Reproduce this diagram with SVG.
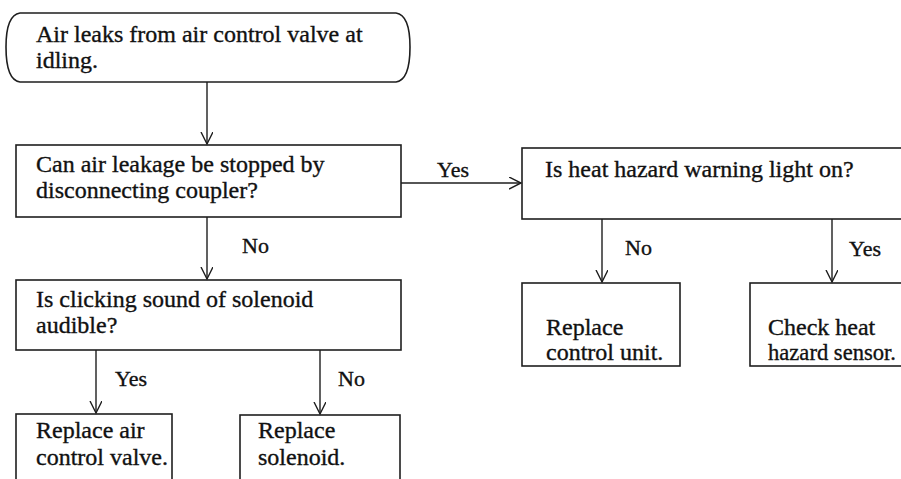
<svg xmlns="http://www.w3.org/2000/svg" width="901" height="479" viewBox="0 0 901 479">
<style>
.box{fill:none;stroke:#1e1e1e;stroke-width:1.6}
.ln{fill:none;stroke:#1e1e1e;stroke-width:1.4}
text{font-family:"Liberation Serif","Times New Roman",serif;font-size:24px;fill:#111;stroke:#111;stroke-width:0.35}
.lb{font-size:22px}
</style>
<defs>
<marker id="ah" markerWidth="14" markerHeight="14" refX="12" refY="6" orient="auto" markerUnits="userSpaceOnUse">
<path d="M0,0 L12,6 L0,12" fill="none" stroke="#1e1e1e" stroke-width="1.4"/>
</marker>
</defs>
<rect width="901" height="479" fill="#fff"/>
<g id="connectors">
<line class="ln" x1="207" y1="82" x2="207" y2="144" marker-end="url(#ah)"/>
<line class="ln" x1="401" y1="183" x2="521" y2="183" marker-end="url(#ah)"/>
<line class="ln" x1="207" y1="217" x2="207" y2="279" marker-end="url(#ah)"/>
<line class="ln" x1="96" y1="350" x2="96" y2="413" marker-end="url(#ah)"/>
<line class="ln" x1="320" y1="350" x2="320" y2="414" marker-end="url(#ah)"/>
<line class="ln" x1="602" y1="219" x2="602" y2="282" marker-end="url(#ah)"/>
<line class="ln" x1="832" y1="219" x2="832" y2="282" marker-end="url(#ah)"/>
<text class="lb" x="437" y="177">Yes</text>
<text class="lb" x="242" y="253">No</text>
<text class="lb" x="115" y="386">Yes</text>
<text class="lb" x="338" y="386">No</text>
<text class="lb" x="625" y="255">No</text>
<text class="lb" x="849" y="256">Yes</text>
</g>
<g id="start">
<path class="box" d="M20,13 H396 Q410,15 410,47 Q410,80 396,82 H20 Q6,80 6,47 Q6,15 20,13 Z"/>
<text x="36" y="42">Air leaks from air control valve at</text>
<text x="36" y="68">idling.</text>
</g>
<g id="q-coupler">
<rect class="box" x="16" y="145" width="385" height="72"/>
<text x="36" y="172">Can air leakage be stopped by</text>
<text x="36" y="198">disconnecting coupler?</text>
</g>
<g id="q-clicking">
<rect class="box" x="16" y="280" width="385" height="70"/>
<text x="36" y="307">Is clicking sound of solenoid</text>
<text x="36" y="333">audible?</text>
</g>
<g id="replace-valve">
<rect class="box" x="16" y="414" width="156" height="70"/>
<text x="36" y="438">Replace air</text>
<text x="36" y="465">control valve.</text>
</g>
<g id="replace-solenoid">
<rect class="box" x="240" y="415" width="160" height="70"/>
<text x="258" y="438">Replace</text>
<text x="258" y="465">solenoid.</text>
</g>
<g id="q-heat">
<rect class="box" x="522" y="148" width="385" height="71"/>
<text x="545" y="177">Is heat hazard warning light on?</text>
</g>
<g id="replace-unit">
<rect class="box" x="522" y="283" width="158" height="83"/>
<text x="546" y="335">Replace</text>
<text x="546" y="360">control unit.</text>
</g>
<g id="check-sensor">
<rect class="box" x="750" y="283" width="160" height="83"/>
<text x="768" y="335">Check heat</text>
<text x="768" y="360" textLength="128" lengthAdjust="spacingAndGlyphs">hazard sensor.</text>
</g>
</svg>
